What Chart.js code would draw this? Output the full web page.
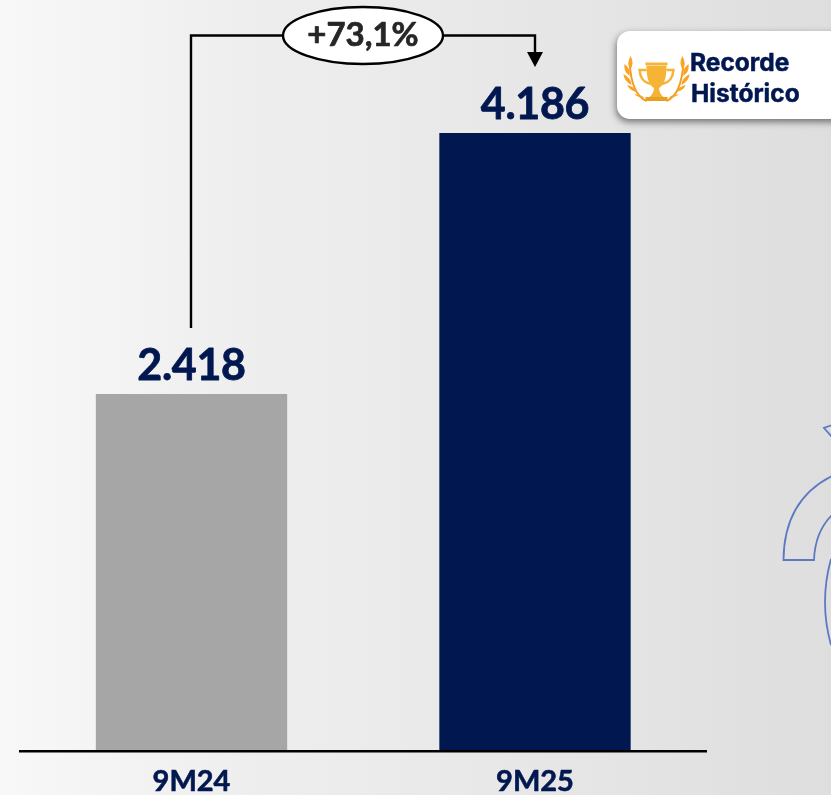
<!DOCTYPE html>
<html>
<head>
<meta charset="utf-8">
<script src="https://cdn.jsdelivr.net/npm/chart.js@4"></script>
<style>
  html, body { margin: 0; padding: 0; width: 831px; height: 795px; overflow: hidden; }
  body { background: linear-gradient(90deg, #f8f8f8 0%, #eeeeee 30%, #e9e9e9 55%, #dddedd 100%); }
  canvas { display: block; }
</style>
</head>
<body>
<canvas id="chart" width="831" height="795"></canvas>
<script>
const categories = ['9M24', '9M25'];
const values = [2418, 4186];
const barColors = ['#a6a6a6', '#00174f'];
const growthLabel = '+73,1%';
const badgeLines = ['Recorde', 'Histórico'];

const navy = '#00174f';

const formatValue = v => String(v).replace(/\B(?=(\d{3})+$)/g, '.');

// bold text with a thin outline, the installed bold is lighter than the original
function heavyText(ctx, text, x, y, outline) {
  ctx.lineWidth = outline;
  ctx.strokeStyle = ctx.fillStyle;
  ctx.lineJoin = 'round';
  ctx.strokeText(text, x, y);
  ctx.fillText(text, x, y);
}

// value labels above the bars
const barLabels = {
  id: 'barLabels',
  afterDatasetsDraw(chart) {
    const { ctx } = chart;
    const bars = chart.getDatasetMeta(0).data;
    ctx.save();
    ctx.fillStyle = navy;
    ctx.font = 'bold 43px Lato';
    ctx.letterSpacing = '-0.3px';
    ctx.textAlign = 'center';
    ctx.textBaseline = 'alphabetic';
    bars.forEach((bar, i) => {
      heavyText(ctx, formatValue(values[i]), bar.x, bar.y - 14, 0.8);
    });
    ctx.restore();
  }
};

// bracket with the growth ellipse between both bars
const growthBracket = {
  id: 'growthBracket',
  afterDatasetsDraw(chart) {
    const { ctx } = chart;
    const bars = chart.getDatasetMeta(0).data;
    const x0 = bars[0].x - 0.5;
    const x1 = bars[1].x;
    const top = 35.5;
    const cx = 363;
    ctx.save();
    ctx.strokeStyle = '#000';
    ctx.lineWidth = 2.4;
    ctx.beginPath();
    ctx.moveTo(x0, bars[0].y - 66);
    ctx.lineTo(x0, top);
    ctx.lineTo(x1, top);
    ctx.lineTo(x1, 54);
    ctx.stroke();
    ctx.fillStyle = '#000';
    ctx.beginPath();
    ctx.moveTo(x1 - 8, 52);
    ctx.lineTo(x1 + 8, 52);
    ctx.lineTo(x1, 67);
    ctx.closePath();
    ctx.fill();
    ctx.fillStyle = '#fff';
    ctx.beginPath();
    ctx.ellipse(cx, top, 80, 28.5, 0, 0, Math.PI * 2);
    ctx.fill();
    ctx.stroke();
    ctx.fillStyle = '#262626';
    ctx.font = 'bold 33px Lato';
    ctx.textAlign = 'center';
    ctx.textBaseline = 'alphabetic';
    heavyText(ctx, growthLabel, cx, 46, 0.7);
    ctx.restore();
  }
};

function drawLaurel(ctx, dir) {
  // one branch of the laurel, dir = -1 left, 1 right
  const cx = 656.5;
  const px = d => cx + dir * d;
  ctx.strokeStyle = '#f79a1e';
  ctx.lineWidth = 2;
  ctx.beginPath();
  ctx.moveTo(px(10), 101);
  ctx.quadraticCurveTo(px(25), 95, px(27), 62);
  ctx.stroke();
  ctx.fillStyle = '#fba423';
  const leaves = [[26, 56, 26, 70, 4], [32, 64, 27, 76, 4], [33, 74, 25, 85, 4], [29, 85, 20, 92, 4], [22, 94, 12, 98, 3]];
  leaves.forEach(l => {
    ctx.beginPath();
    ctx.moveTo(px(l[0]), l[1]);
    ctx.quadraticCurveTo(px((l[0] + l[2]) / 2 + l[4]), (l[1] + l[3]) / 2 + 1, px(l[2]), l[3]);
    ctx.quadraticCurveTo(px((l[0] + l[2]) / 2 - l[4]), (l[1] + l[3]) / 2 - 1, px(l[0]), l[1]);
    ctx.fill();
  });
}

function drawTrophy(ctx) {
  const cx = 656.5;
  ctx.strokeStyle = '#f5b435';
  ctx.lineWidth = 2.5;
  ctx.beginPath();
  ctx.moveTo(cx - 10, 70);
  ctx.lineTo(cx - 17, 70);
  ctx.quadraticCurveTo(cx - 16, 82, cx - 6, 84);
  ctx.moveTo(cx + 10, 70);
  ctx.lineTo(cx + 17, 70);
  ctx.quadraticCurveTo(cx + 16, 82, cx + 6, 84);
  ctx.stroke();
  ctx.fillStyle = '#f5b435';
  ctx.fillRect(cx - 11, 62.5, 22, 3);
  ctx.beginPath();
  ctx.moveTo(cx - 10, 66);
  ctx.lineTo(cx + 10, 66);
  ctx.quadraticCurveTo(cx + 10, 84, cx + 2.5, 88);
  ctx.quadraticCurveTo(cx + 3, 94, cx + 7, 97);
  ctx.lineTo(cx - 7, 97);
  ctx.quadraticCurveTo(cx - 3, 94, cx - 2.5, 88);
  ctx.quadraticCurveTo(cx - 10, 84, cx - 10, 66);
  ctx.fill();
  ctx.fillStyle = '#e8a020';
  ctx.fillRect(cx - 11, 97, 22, 4);
}

// white badge at the top right corner
const recordBadge = {
  id: 'recordBadge',
  afterDraw(chart) {
    const { ctx } = chart;
    ctx.save();
    ctx.shadowColor = 'rgba(0,0,0,0.5)';
    ctx.shadowBlur = 7;
    ctx.shadowOffsetX = -1;
    ctx.shadowOffsetY = 3;
    ctx.fillStyle = '#fff';
    ctx.beginPath();
    ctx.roundRect(617, 31, 240, 88, 13);
    ctx.fill();
    ctx.restore();
    ctx.save();
    drawLaurel(ctx, -1);
    drawLaurel(ctx, 1);
    drawTrophy(ctx);
    ctx.fillStyle = navy;
    ctx.font = 'bold 24.5px Inter';
    ctx.textBaseline = 'alphabetic';
    heavyText(ctx, badgeLines[0], 690, 71, 0.5);
    heavyText(ctx, badgeLines[1], 691, 102, 0.5);
    ctx.restore();
  }
};

// outline of the watermark cut by the right edge
const watermark = {
  id: 'watermark',
  beforeDraw(chart) {
    const { ctx } = chart;
    ctx.save();
    ctx.strokeStyle = '#5d79c4';
    ctx.lineWidth = 1.8;
    ctx.beginPath();
    ctx.moveTo(832, 476);
    ctx.quadraticCurveTo(784, 500, 783.5, 560);
    ctx.lineTo(814, 560);
    ctx.quadraticCurveTo(815, 532, 832, 515);
    ctx.moveTo(832, 425);
    ctx.lineTo(824, 428);
    ctx.lineTo(832, 437);
    ctx.moveTo(831, 559);
    ctx.quadraticCurveTo(819, 602, 831, 645);
    ctx.stroke();
    ctx.restore();
  }
};

new Chart(document.getElementById('chart').getContext('2d'), {
  type: 'bar',
  data: {
    labels: categories,
    datasets: [{
      data: values,
      backgroundColor: barColors,
      categoryPercentage: 1,
      barPercentage: 0.557
    }]
  },
  options: {
    responsive: false,
    animation: false,
    layout: { padding: { left: 19.75, right: 124.25, top: 0, bottom: 0 } },
    plugins: { legend: { display: false }, tooltip: { enabled: false } },
    scales: {
      x: {
        afterFit(scale) { scale.height = 44; },
        grid: { display: false },
        border: { display: true, color: '#000', width: 2.4, z: 2 },
        ticks: {
          color: navy,
          font: { family: 'Lato', weight: 'bold', size: 29 },
          textStrokeColor: navy,
          textStrokeWidth: 0.6,
          padding: 5,
          maxRotation: 0
        }
      },
      y: {
        display: false,
        min: 0,
        max: 5087
      }
    }
  },
  plugins: [watermark, barLabels, growthBracket, recordBadge]
});
</script>
</body>
</html>
